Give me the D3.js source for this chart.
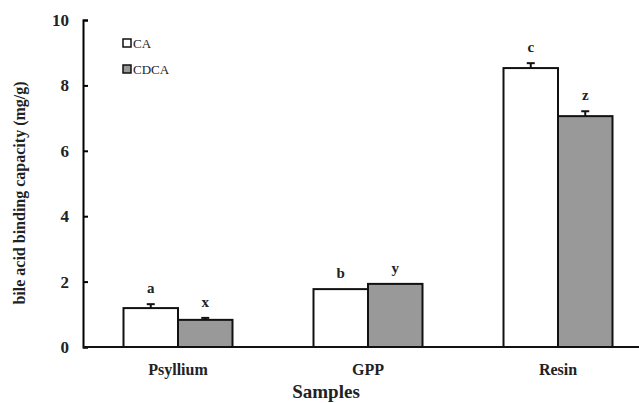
<!DOCTYPE html>
<html lang="en">
<head>
    <meta charset="UTF-8">
    <title>Bile acid binding capacity</title>
    <style>
        body { margin: 0; background: #fff; }
        svg text { font-family: "Liberation Serif", "Times New Roman", "DejaVu Serif", serif !important; }
    </style>
</head>
<body>
    <div id="chart"></div>
    <script src="https://d3js.org/d3.v7.min.js"></script>
    <script>
        // data
        var samples = ["Psyllium", "GPP", "Resin"];
        var series = ["CA", "CDCA"];
        var caValues = [1.19, 1.77, 8.53];
        var cdcaValues = [0.83, 1.93, 7.06];
        var caErrors = [0.12, 0, 0.15];
        var cdcaErrors = [0.06, 0, 0.15];
        var caLetters = ["a", "b", "c"];
        var cdcaLetters = ["x", "y", "z"];
        var yTicks = [0, 2, 4, 6, 8, 10];

        var width = 639, height = 403;
        var colors = { CA: "#ffffff", CDCA: "#999999" };
        var serif = "'Liberation Serif', 'Times New Roman', serif";

        var rows = [];
        samples.forEach(function(s, i) {
            rows.push({ sample: s, key: "CA", value: caValues[i], err: caErrors[i], letter: caLetters[i] });
            rows.push({ sample: s, key: "CDCA", value: cdcaValues[i], err: cdcaErrors[i], letter: cdcaLetters[i] });
        });

        var svg = d3.select("#chart")
            .append("svg")
            .attr("width", width)
            .attr("height", height)
            .attr("font-family", serif);

        var x = d3.scaleBand()
            .domain(samples)
            .range([83, 653])
            .paddingInner(0)
            .paddingOuter(0);

        var xSub = d3.scaleBand()
            .domain(series)
            .range([0, 109]);

        var y = d3.scaleLinear()
            .domain([0, 10])
            .range([347, 20]);

        function barX(d) {
            return x(d.sample) + (x.bandwidth() - 109) / 2 + xSub(d.key);
        }

        // y axis (ticks point inward)
        var yAxis = d3.axisLeft(y)
            .tickValues(yTicks)
            .tickSize(-5)
            .tickPadding(14)
            .tickFormat(d3.format("d"));

        var gy = svg.append("g")
            .attr("transform", "translate(83,0)")
            .call(yAxis)
            .attr("font-family", serif);
        gy.select(".domain").attr("stroke-width", 2);
        gy.selectAll(".tick line").attr("stroke-width", 2);
        gy.selectAll(".tick text")
            .style("font-size", "17px")
            .style("font-weight", "bold")
            .attr("fill", "#222");

        // bars
        svg.selectAll(".bar")
            .data(rows)
            .enter()
            .append("rect")
            .attr("class", "bar")
            .attr("x", barX)
            .attr("y", d => y(d.value))
            .attr("width", xSub.bandwidth())
            .attr("height", d => y(0) - y(d.value))
            .attr("fill", d => colors[d.key])
            .attr("stroke", "#111")
            .attr("stroke-width", 2);

        // error bars
        var errs = svg.selectAll(".err")
            .data(rows.filter(d => d.err > 0))
            .enter()
            .append("g")
            .attr("class", "err");
        errs.append("line")
            .attr("x1", d => barX(d) + xSub.bandwidth() / 2)
            .attr("x2", d => barX(d) + xSub.bandwidth() / 2)
            .attr("y1", d => y(d.value))
            .attr("y2", d => y(d.value + d.err))
            .attr("stroke", "#111")
            .attr("stroke-width", 2);
        errs.append("line")
            .attr("x1", d => barX(d) + xSub.bandwidth() / 2 - 4)
            .attr("x2", d => barX(d) + xSub.bandwidth() / 2 + 4)
            .attr("y1", d => y(d.value + d.err))
            .attr("y2", d => y(d.value + d.err))
            .attr("stroke", "#111")
            .attr("stroke-width", 2);

        // significance letters
        svg.selectAll(".letter")
            .data(rows)
            .enter()
            .append("text")
            .attr("class", "letter")
            .attr("x", d => barX(d) + xSub.bandwidth() / 2)
            .attr("y", d => y(d.value + d.err) - 11)
            .attr("text-anchor", "middle")
            .style("font-size", "15px")
            .style("font-weight", "bold")
            .attr("fill", "#222")
            .text(d => d.letter);

        // x axis line
        svg.append("line")
            .attr("x1", 83)
            .attr("x2", width)
            .attr("y1", y(0))
            .attr("y2", y(0))
            .attr("stroke", "#111")
            .attr("stroke-width", 2);

        // category labels
        svg.selectAll(".cat")
            .data(samples)
            .enter()
            .append("text")
            .attr("class", "cat")
            .attr("x", d => x(d) + x.bandwidth() / 2)
            .attr("y", 375)
            .attr("text-anchor", "middle")
            .style("font-size", "16px")
            .style("font-weight", "bold")
            .attr("fill", "#222")
            .text(d => d);

        // axis titles
        svg.append("text")
            .attr("x", 326)
            .attr("y", 398)
            .attr("text-anchor", "middle")
            .style("font-size", "19px")
            .style("font-weight", "bold")
            .attr("fill", "#222")
            .text("Samples");

        svg.append("text")
            .attr("transform", "translate(25,193) rotate(-90)")
            .attr("text-anchor", "middle")
            .style("font-size", "16px")
            .style("font-weight", "bold")
            .attr("fill", "#222")
            .text("bile acid binding capacity (mg/g)");

        // legend
        var legend = svg.selectAll(".legend")
            .data(series)
            .enter()
            .append("g")
            .attr("class", "legend")
            .attr("transform", (d, i) => "translate(123," + (39 + i * 26) + ")");
        legend.append("rect")
            .attr("width", 8)
            .attr("height", 8)
            .attr("fill", d => colors[d])
            .attr("stroke", "#111")
            .attr("stroke-width", 1.5);
        legend.append("text")
            .attr("x", 10)
            .attr("y", 8.5)
            .style("font-size", "13px")
            .attr("fill", "#222")
            .text(d => d);
    </script>
</body>
</html>
